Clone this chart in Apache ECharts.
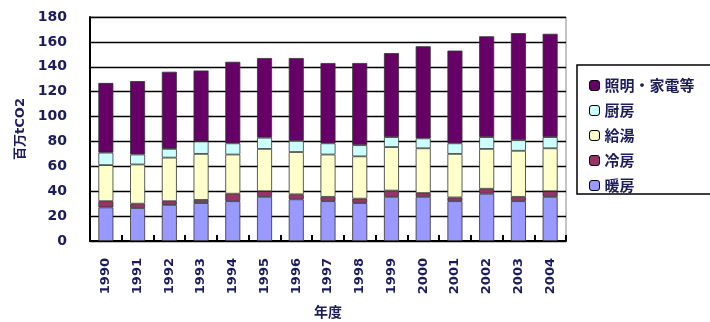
<!DOCTYPE html>
<html>
<head>
  <meta charset="utf-8">
  <title>家庭部門 CO2排出量</title>
  <script src="https://cdn.jsdelivr.net/npm/echarts@6/dist/echarts.min.js"></script>
  <style>
    html, body { margin: 0; padding: 0; background: #fff; }
  </style>
</head>
<body>
  <div id="chart" style="width: 710px; height: 322px;"></div>

  <script>
    // 年度
    const years = ['1990', '1991', '1992', '1993', '1994', '1995', '1996', '1997',
                   '1998', '1999', '2000', '2001', '2002', '2003', '2004'];
    // 用途別排出量 (百万tCO2)
    const heating  = [27, 26.5, 29, 30.5, 32, 35.5, 33.5, 32, 30.5, 35.5, 35.5, 32, 38, 32, 35.5];   // 暖房
    const cooling  = [5, 3.5, 3, 2.5, 6, 4.5, 4, 3.5, 3.5, 5, 3, 3, 4, 3.5, 4.5];                     // 冷房
    const hotWater = [29, 31.5, 35, 37, 31.5, 34, 34, 34, 34, 35, 36, 35, 32, 37, 34.5];             // 給湯
    const kitchen  = [10, 8, 7, 10, 9, 9, 9, 9, 9, 8, 8, 8.5, 9.5, 8.5, 9];                           // 厨房
    const lighting = [56, 59, 62, 57, 65.5, 64, 66.5, 64.5, 66, 67.5, 74, 74.5, 81, 86, 83];         // 照明・家電等

    const seriesDefs = [
      { name: '暖房', data: heating, color: '#9999ff' },
      { name: '冷房', data: cooling, color: '#993366' },
      { name: '給湯', data: hotWater, color: '#ffffcc' },
      { name: '厨房', data: kitchen, color: '#ccffff' },
      { name: '照明・家電等', data: lighting, color: '#660066' }
    ];

    const labelColor = '#1c1c5c';
    const chart = echarts.init(document.getElementById('chart'));

    chart.setOption({
      animation: false,
      textStyle: { fontFamily: 'DejaVu Sans, Noto Sans CJK JP, sans-serif' },
      grid: {
        left: 90, right: 144, top: 17, bottom: 81,
        outerBoundsMode: 'none',
        containLabel: false,
        show: true, borderColor: '#888', borderWidth: 1
      },
      legend: {
        orient: 'vertical',
        left: 584, top: 73,
        itemWidth: 10, itemHeight: 10, itemGap: 10,
        data: ['照明・家電等', '厨房', '給湯', '冷房', '暖房'],
        itemStyle: { borderColor: '#000', borderWidth: 1 },
        textStyle: {
          fontFamily: 'Noto Sans CJK JP', fontSize: 15, fontWeight: 'bold',
          color: labelColor, lineHeight: 15
        }
      },
      graphic: [{
        type: 'rect',
        shape: { x: 577, y: 65, width: 140, height: 129 },
        style: { fill: 'none', stroke: '#000', lineWidth: 1.5 },
        silent: true
      }],
      xAxis: {
        type: 'category',
        data: years,
        name: '年度',
        nameLocation: 'middle',
        nameGap: 64,
        nameTextStyle: { fontFamily: 'Noto Sans CJK JP', fontSize: 14, fontWeight: 'bold', color: labelColor },
        axisLine: { lineStyle: { color: '#000', width: 2 } },
        axisTick: { show: true, inside: true, length: 6, lineStyle: { color: '#000', width: 2 } },
        axisLabel: {
          rotate: 90, margin: 17,
          fontSize: 13, fontWeight: 'bold', color: labelColor
        }
      },
      yAxis: {
        type: 'value',
        min: 0, max: 180, interval: 20,
        name: '百万tCO2',
        nameLocation: 'middle',
        nameRotate: 90,
        nameGap: 63,
        nameTextStyle: { fontSize: 13, fontWeight: 'bold', color: labelColor },
        axisLine: { show: true, lineStyle: { color: '#000', width: 2 } },
        axisTick: { show: false },
        axisLabel: { margin: 23, fontSize: 14, fontWeight: 'bold', color: labelColor },
        splitLine: { lineStyle: { color: '#000', width: 1.4 } }
      },
      series: seriesDefs.map(s => ({
        name: s.name,
        type: 'bar',
        stack: 'total',
        barWidth: 15,
        data: s.data,
        itemStyle: { color: s.color, borderColor: '#333', borderWidth: 0.8 }
      }))
    });
  </script>
</body>
</html>
